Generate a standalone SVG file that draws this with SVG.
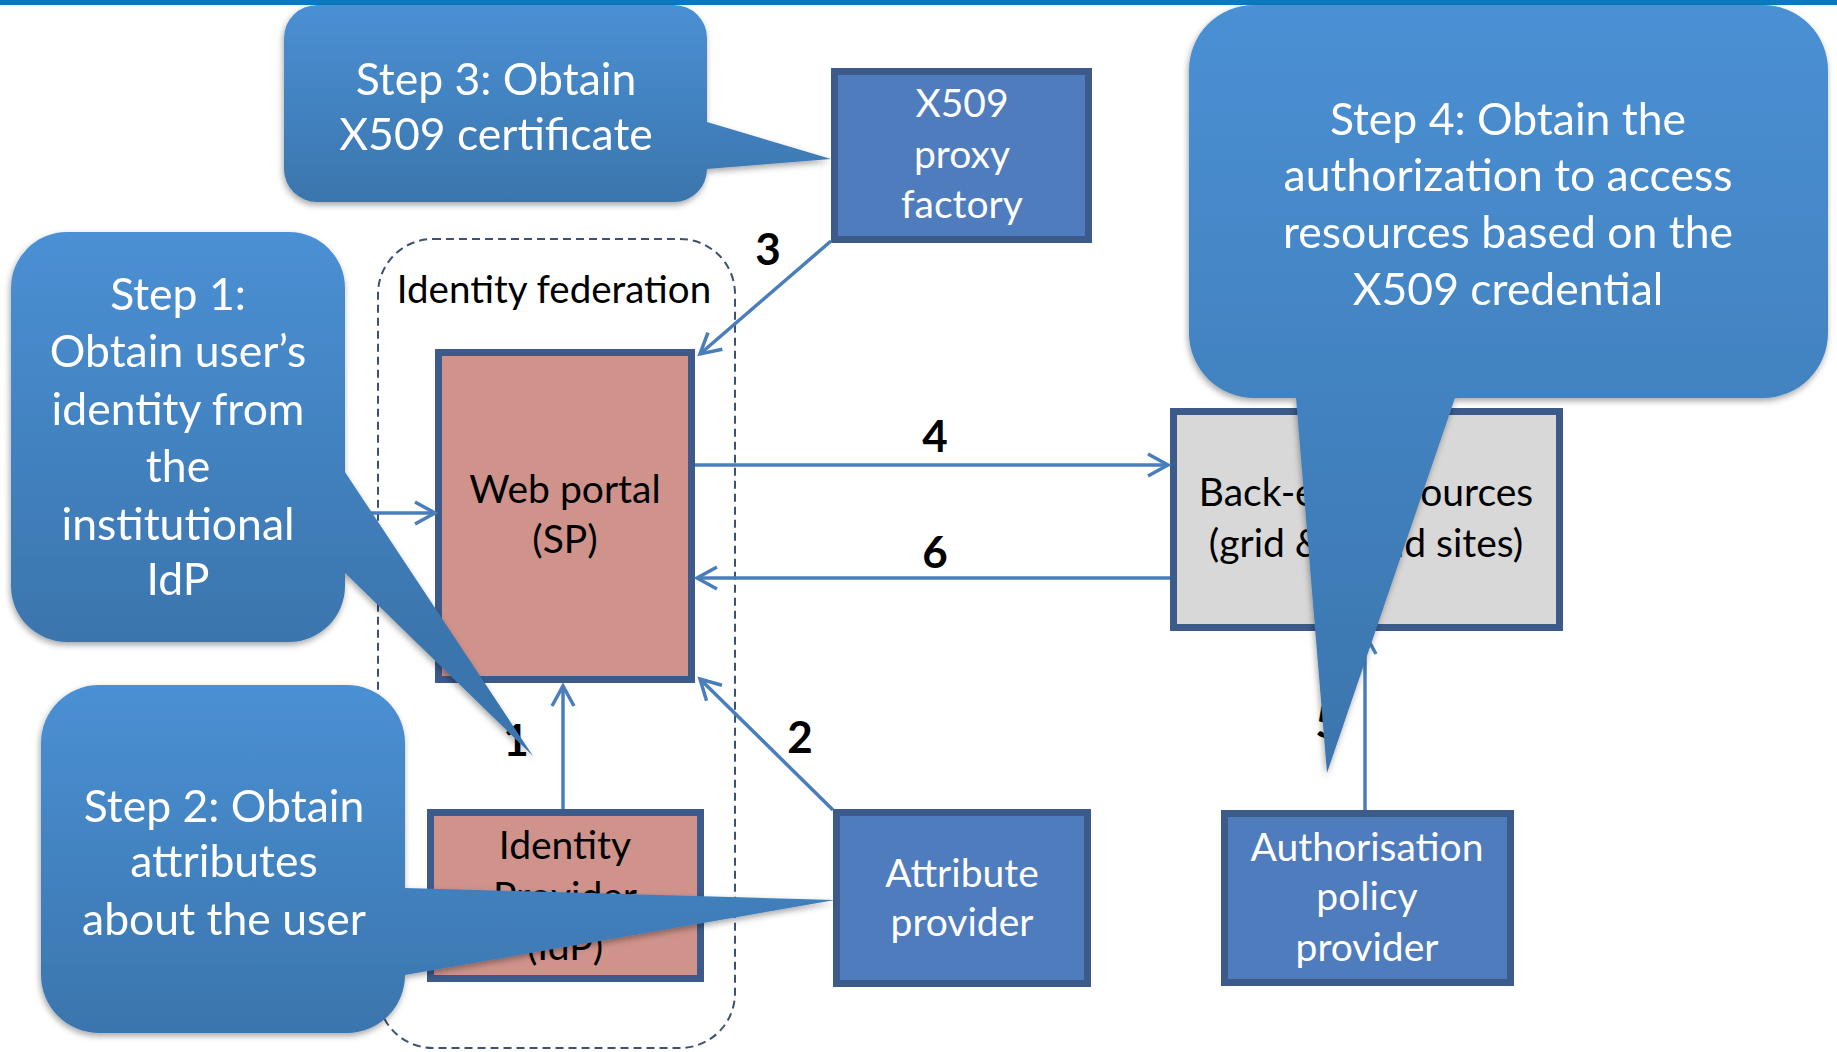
<svg xmlns="http://www.w3.org/2000/svg" width="1837" height="1052" viewBox="0 0 1837 1052">
<defs>
<style>
.box{stroke:#3c5a8a;stroke-width:7}
.blue{fill:#4f7cbd}
.salmon{fill:#d0938c}
.grey{fill:#d8d8d8}
.wt{fill:#ffffff;font-family:Lato,"Liberation Sans",sans-serif;font-size:39px;text-anchor:middle}
.bt{fill:#000000;font-family:Lato,"Liberation Sans",sans-serif;font-size:39px;text-anchor:middle}
.ct{fill:#ffffff;font-family:Lato,"Liberation Sans",sans-serif;font-size:44.5px;text-anchor:middle}
.num{fill:#000000;font-family:Lato,"Liberation Sans",sans-serif;font-size:44px;font-weight:bold;text-anchor:middle}
.conn{stroke:#4a7ebb;stroke-width:3.5;fill:none;marker-end:url(#arr)}
</style>
<marker id="arr" markerUnits="userSpaceOnUse" markerWidth="30" markerHeight="30" viewBox="-24 -15 30 30" refX="0" refY="0" orient="auto">
<path d="M-20,-11 L0,0 L-20,11" fill="none" stroke="#4a7ebb" stroke-width="3.5"/>
</marker>
<filter id="sh" x="-10%" y="-10%" width="120%" height="125%">
<feDropShadow dx="-1" dy="3" stdDeviation="3" flood-color="#000" flood-opacity="0.35"/>
</filter>
<linearGradient id="g3" gradientUnits="userSpaceOnUse" x1="0" y1="5" x2="0" y2="202"><stop offset="0" stop-color="#4a90d4"/><stop offset="1" stop-color="#3b75ad"/></linearGradient>
<linearGradient id="g1" gradientUnits="userSpaceOnUse" x1="0" y1="232" x2="0" y2="642"><stop offset="0" stop-color="#4a90d4"/><stop offset="1" stop-color="#3b75ad"/></linearGradient>
<linearGradient id="g2" gradientUnits="userSpaceOnUse" x1="0" y1="685" x2="0" y2="1033"><stop offset="0" stop-color="#4a90d4"/><stop offset="1" stop-color="#3b75ad"/></linearGradient>
<linearGradient id="g4" gradientUnits="userSpaceOnUse" x1="0" y1="5" x2="0" y2="773"><stop offset="0" stop-color="#4a90d4"/><stop offset="1" stop-color="#3b75ad"/></linearGradient>
</defs>
<rect x="0" y="0" width="1837" height="1052" fill="#ffffff"/>
<rect x="0" y="0" width="1837" height="5" fill="#0a7abf"/>

<g id="identity-federation">
<rect x="378" y="239" width="357" height="809" rx="55" ry="55" fill="none" stroke="#3e5171" stroke-width="2" stroke-dasharray="8,5"/>
<text class="bt" x="554" y="303" style="font-size:38.5px">Identity federation</text>
</g>

<g id="x509">
<rect class="box blue" x="834.5" y="71.5" width="254" height="168"/>
<text class="wt" x="962" y="117">X509</text>
<text class="wt" x="962" y="168">proxy</text>
<text class="wt" x="962" y="218">factory</text>
</g>

<g id="webportal">
<rect class="box salmon" x="438.5" y="352.5" width="253" height="327"/>
<text class="bt" x="565" y="503">Web portal</text>
<text class="bt" x="565" y="553">(SP)</text>
</g>

<g id="idp">
<rect class="box salmon" x="430.5" y="812.5" width="270" height="166"/>
<text class="bt" x="565" y="859">Identity</text>
<text class="bt" x="565" y="910">Provider</text>
<text class="bt" x="565" y="960">(IdP)</text>
</g>

<g id="attribute">
<rect class="box blue" x="836.5" y="812.5" width="251" height="171"/>
<text class="wt" x="962" y="887">Attribute</text>
<text class="wt" x="962" y="936">provider</text>
</g>

<g id="backend">
<rect class="box grey" x="1173.5" y="411.5" width="386" height="216"/>
<text class="bt" x="1366" y="506">Back-end resources</text>
<text class="bt" x="1366" y="557">(grid &amp; cloud sites)</text>
</g>

<g id="authorisation">
<rect class="box blue" x="1224.5" y="813.5" width="286" height="169"/>
<text class="wt" x="1367" y="861">Authorisation</text>
<text class="wt" x="1367" y="910">policy</text>
<text class="wt" x="1367" y="961">provider</text>
</g>

<g id="connectors">
<line class="conn" x1="831" y1="241" x2="700" y2="354"/>
<line class="conn" x1="695" y1="465" x2="1168" y2="465"/>
<line class="conn" x1="1170" y1="578" x2="697" y2="578"/>
<line class="conn" x1="563" y1="809" x2="563" y2="686"/>
<line class="conn" x1="833" y1="810" x2="700" y2="679"/>
<line class="conn" x1="330" y1="513" x2="435" y2="513"/>
<line class="conn" x1="1365" y1="810" x2="1365" y2="634"/>
<text class="num" x="768" y="265">3</text>
<text class="num" x="935" y="452">4</text>
<text class="num" x="935" y="568">6</text>
<text class="num" x="800" y="753">2</text>
<text class="num" x="516" y="756">1</text>
<text class="num" x="1328" y="738">5</text>
</g>

<g id="step3" filter="url(#sh)">
<path fill="url(#g3)" d="M 317,5 H 674 A 33 33 0 0 1 707,38 V 122 L 831,159 L 707,169 A 33 33 0 0 1 674,202 H 317 A 33 33 0 0 1 284,169 V 38 A 33 33 0 0 1 317,5 Z"/>
<text class="ct" x="496" y="95">Step 3: Obtain</text>
<text class="ct" x="496" y="150">X509 certificate</text>
</g>

<g id="step1" filter="url(#sh)">
<path fill="url(#g1)" d="M 67,232 H 289 A 56 56 0 0 1 345,288 V 472 L 533,756 L 345,573 V 586 A 56 56 0 0 1 289,642 H 67 A 56 56 0 0 1 11,586 V 288 A 56 56 0 0 1 67,232 Z"/>
<text class="ct" x="178" y="310">Step 1:</text>
<text class="ct" x="178" y="367">Obtain user’s</text>
<text class="ct" x="178" y="425">identity from</text>
<text class="ct" x="178" y="482">the</text>
<text class="ct" x="178" y="540">institutional</text>
<text class="ct" x="178" y="595">IdP</text>
</g>

<g id="step2" filter="url(#sh)">
<path fill="url(#g2)" d="M 99,685 H 347 A 58 58 0 0 1 405,743 V 888 L 835,900 L 405,975 A 58 58 0 0 1 347,1033 H 99 A 58 58 0 0 1 41,975 V 743 A 58 58 0 0 1 99,685 Z"/>
<text class="ct" x="224" y="822">Step 2: Obtain</text>
<text class="ct" x="224" y="877">attributes</text>
<text class="ct" x="224" y="935">about the user</text>
</g>

<g id="step4" filter="url(#sh)">
<path fill="url(#g4)" d="M 1254,5 H 1763 A 65 65 0 0 1 1828,70 V 333 A 65 65 0 0 1 1763,398 H 1455 L 1327,773 L 1296,398 H 1254 A 65 65 0 0 1 1189,333 V 70 A 65 65 0 0 1 1254,5 Z"/>
<text class="ct" x="1508" y="135">Step 4: Obtain the</text>
<text class="ct" x="1508" y="191">authorization to access</text>
<text class="ct" x="1508" y="248">resources based on the</text>
<text class="ct" x="1508" y="305">X509 credential</text>
</g>
</svg>
